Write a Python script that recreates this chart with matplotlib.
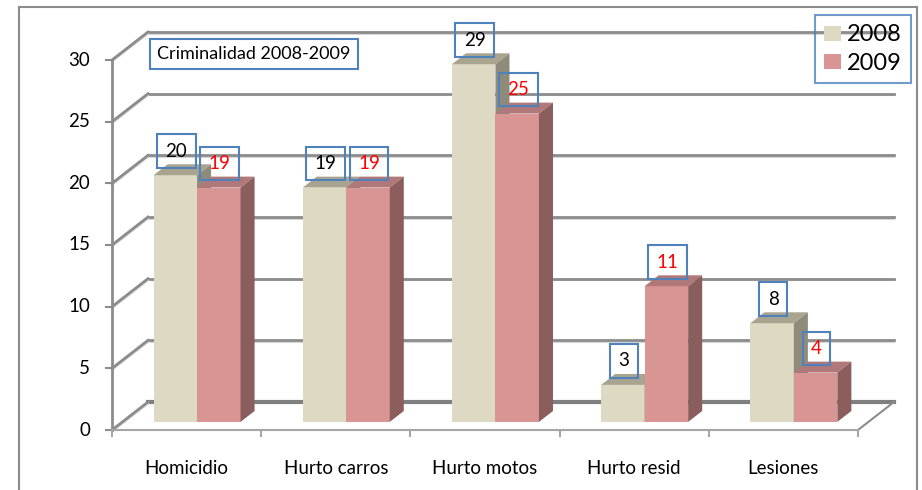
import matplotlib
matplotlib.use("Agg")
import matplotlib.pyplot as plt
from matplotlib.patches import Polygon, Rectangle, Patch

# data
categories = ["Homicidio", "Hurto carros", "Hurto motos", "Hurto resid", "Lesiones"]
series = ["2008", "2009"]
values_2008 = [20, 19, 29, 3, 8]
values_2009 = [19, 19, 25, 11, 4]
yticks = [0, 5, 10, 15, 20, 25, 30]
title = "Criminalidad 2008-2009"

plt.rcParams["font.family"] = ["Lato", "DejaVu Sans"]

W, H = 922, 490
fig = plt.figure(figsize=(W / 100, H / 100), dpi=100)
ax = fig.add_axes([0, 0, 1, 1])
ax.axis("off")

# pixel layout of the front plane (Excel-like fake 3D)
x_left, x_right = 112, 858          # category axis, pixels
y_zero, y_top = 430, 60             # value 0 and 30, pixels
px_x = (x_right - x_left) / len(categories)
px_y = (y_zero - y_top) / 30.0
ax.set_xlim(-0.5 - x_left / px_x, -0.5 + (W - x_left) / px_x)
ax.set_ylim(-(H - y_zero) / px_y, y_zero / px_y)

# depth vector (back wall offset) in data units
DX = 36 / px_x
DY = 28 / px_y
t0, t1 = 0.29, 0.68                 # bar depth range
bw = 43.5 / px_x                    # bar width

grid_c = "#8c8c8c"
shadow_c = "#d6d6d6"

# walls / gridlines
for v in yticks:
    sh = 1.6 / px_y
    if v == 0:
        ax.plot([-0.5 + DX, 4.5 + DX], [v + DY, v + DY], color="#7f7f7f", lw=3, zorder=1)
    else:
        ax.plot([-0.5 + DX, 4.5 + DX], [v + DY - sh, v + DY - sh], color=shadow_c, lw=1.5, zorder=1)
        ax.plot([-0.5 + DX, 4.5 + DX], [v + DY, v + DY], color=grid_c, lw=2, zorder=1)
    ax.plot([-0.5, -0.5 + DX], [v - sh, v + DY - sh], color=shadow_c, lw=1.5, zorder=1)
    ax.plot([-0.5, -0.5 + DX], [v, v + DY], color=grid_c, lw=2, zorder=1)
    # tick and label
    ax.plot([-0.5 - 6 / px_x, -0.5], [v, v], color=grid_c, lw=1.5, zorder=1)
    ax.text(-0.5 - 22 / px_x, v, str(v), ha="right", va="center", fontsize=13.5, color="black")

# floor right edge
ax.plot([4.5, 4.5 + DX], [0, DY], color=grid_c, lw=1.5, zorder=1)
# y axis
ax.plot([-0.5, -0.5], [0, 30], color=grid_c, lw=2, zorder=5)
# front floor line and ticks
ax.plot([-0.5, 4.5], [0, 0], color="#a6a6a6", lw=1.5, zorder=5)
for i in range(len(categories) + 1):
    ax.plot([i - 0.5, i - 0.5], [0, -6 / px_y], color="#a6a6a6", lw=1.5, zorder=5)
for i, c in enumerate(categories):
    ax.text(i, -38 / px_y, c, ha="center", va="center", fontsize=13.5, color="black")

faces = {
    "2008": ("#ddd9c3", "#a8a48f", "#8f8b7b", "black"),
    "2009": ("#d99594", "#b07878", "#8b5d5c", "red"),
}

d = t1 - t0
for i in range(len(categories)):
    for j, (name, vals) in enumerate([("2008", values_2008), ("2009", values_2009)]):
        v = vals[i]
        front, top, side, tc = faces[name]
        x0 = i - bw + j * bw + t0 * DX
        x1 = x0 + bw
        y0 = t0 * DY
        y1 = v + t0 * DY
        z = 3
        ax.add_patch(Polygon([(x0, y0), (x1, y0), (x1, y1), (x0, y1)], closed=True,
                             fc=front, ec="none", zorder=z))
        ax.add_patch(Polygon([(x0, y1), (x1, y1), (x1 + d * DX, y1 + d * DY), (x0 + d * DX, y1 + d * DY)],
                             closed=True, fc=top, ec="none", zorder=z))
        ax.add_patch(Polygon([(x1, y0), (x1, y1), (x1 + d * DX, y1 + d * DY), (x1 + d * DX, y0 + d * DY)],
                             closed=True, fc=side, ec="none", zorder=z))
        ax.text((x0 + x1) / 2 + 1 / px_x, y1 + 24 / px_y, str(v), ha="center", va="center",
                fontsize=13.5, color=tc, zorder=6,
                bbox=dict(boxstyle="square,pad=0.45", fc="none", ec="#4f81bd", lw=1.5))

# title box
ax.text(-0.5 + DX + 9 / px_x, (y_zero - 54) / px_y, title, ha="left", va="center", fontsize=13,
        zorder=6, bbox=dict(boxstyle="square,pad=0.4", fc="none", ec="#4f81bd", lw=1.5))

# legend
handles = [Patch(fc=faces[s][0], ec="none") for s in series]
leg = ax.legend(handles, series, loc="upper right", bbox_to_anchor=(911 / W, 1 - 15 / H),
                bbox_transform=fig.transFigure, frameon=True, fancybox=False,
                edgecolor="#4f81bd", facecolor="none", fontsize=17,
                handlelength=0.7, handleheight=0.6, handletextpad=0.25,
                borderpad=0.4, labelspacing=0.3, borderaxespad=0)
leg.get_frame().set_linewidth(1.5)

# outer chart border
fig.patches.append(Rectangle((18.5 / W, -0.1), (917 - 18.5) / W, 1.1 - 7 / H, transform=fig.transFigure,
                             fill=False, ec="#8c8c8c", lw=1.5))

fig.savefig("out.png", dpi=100)
